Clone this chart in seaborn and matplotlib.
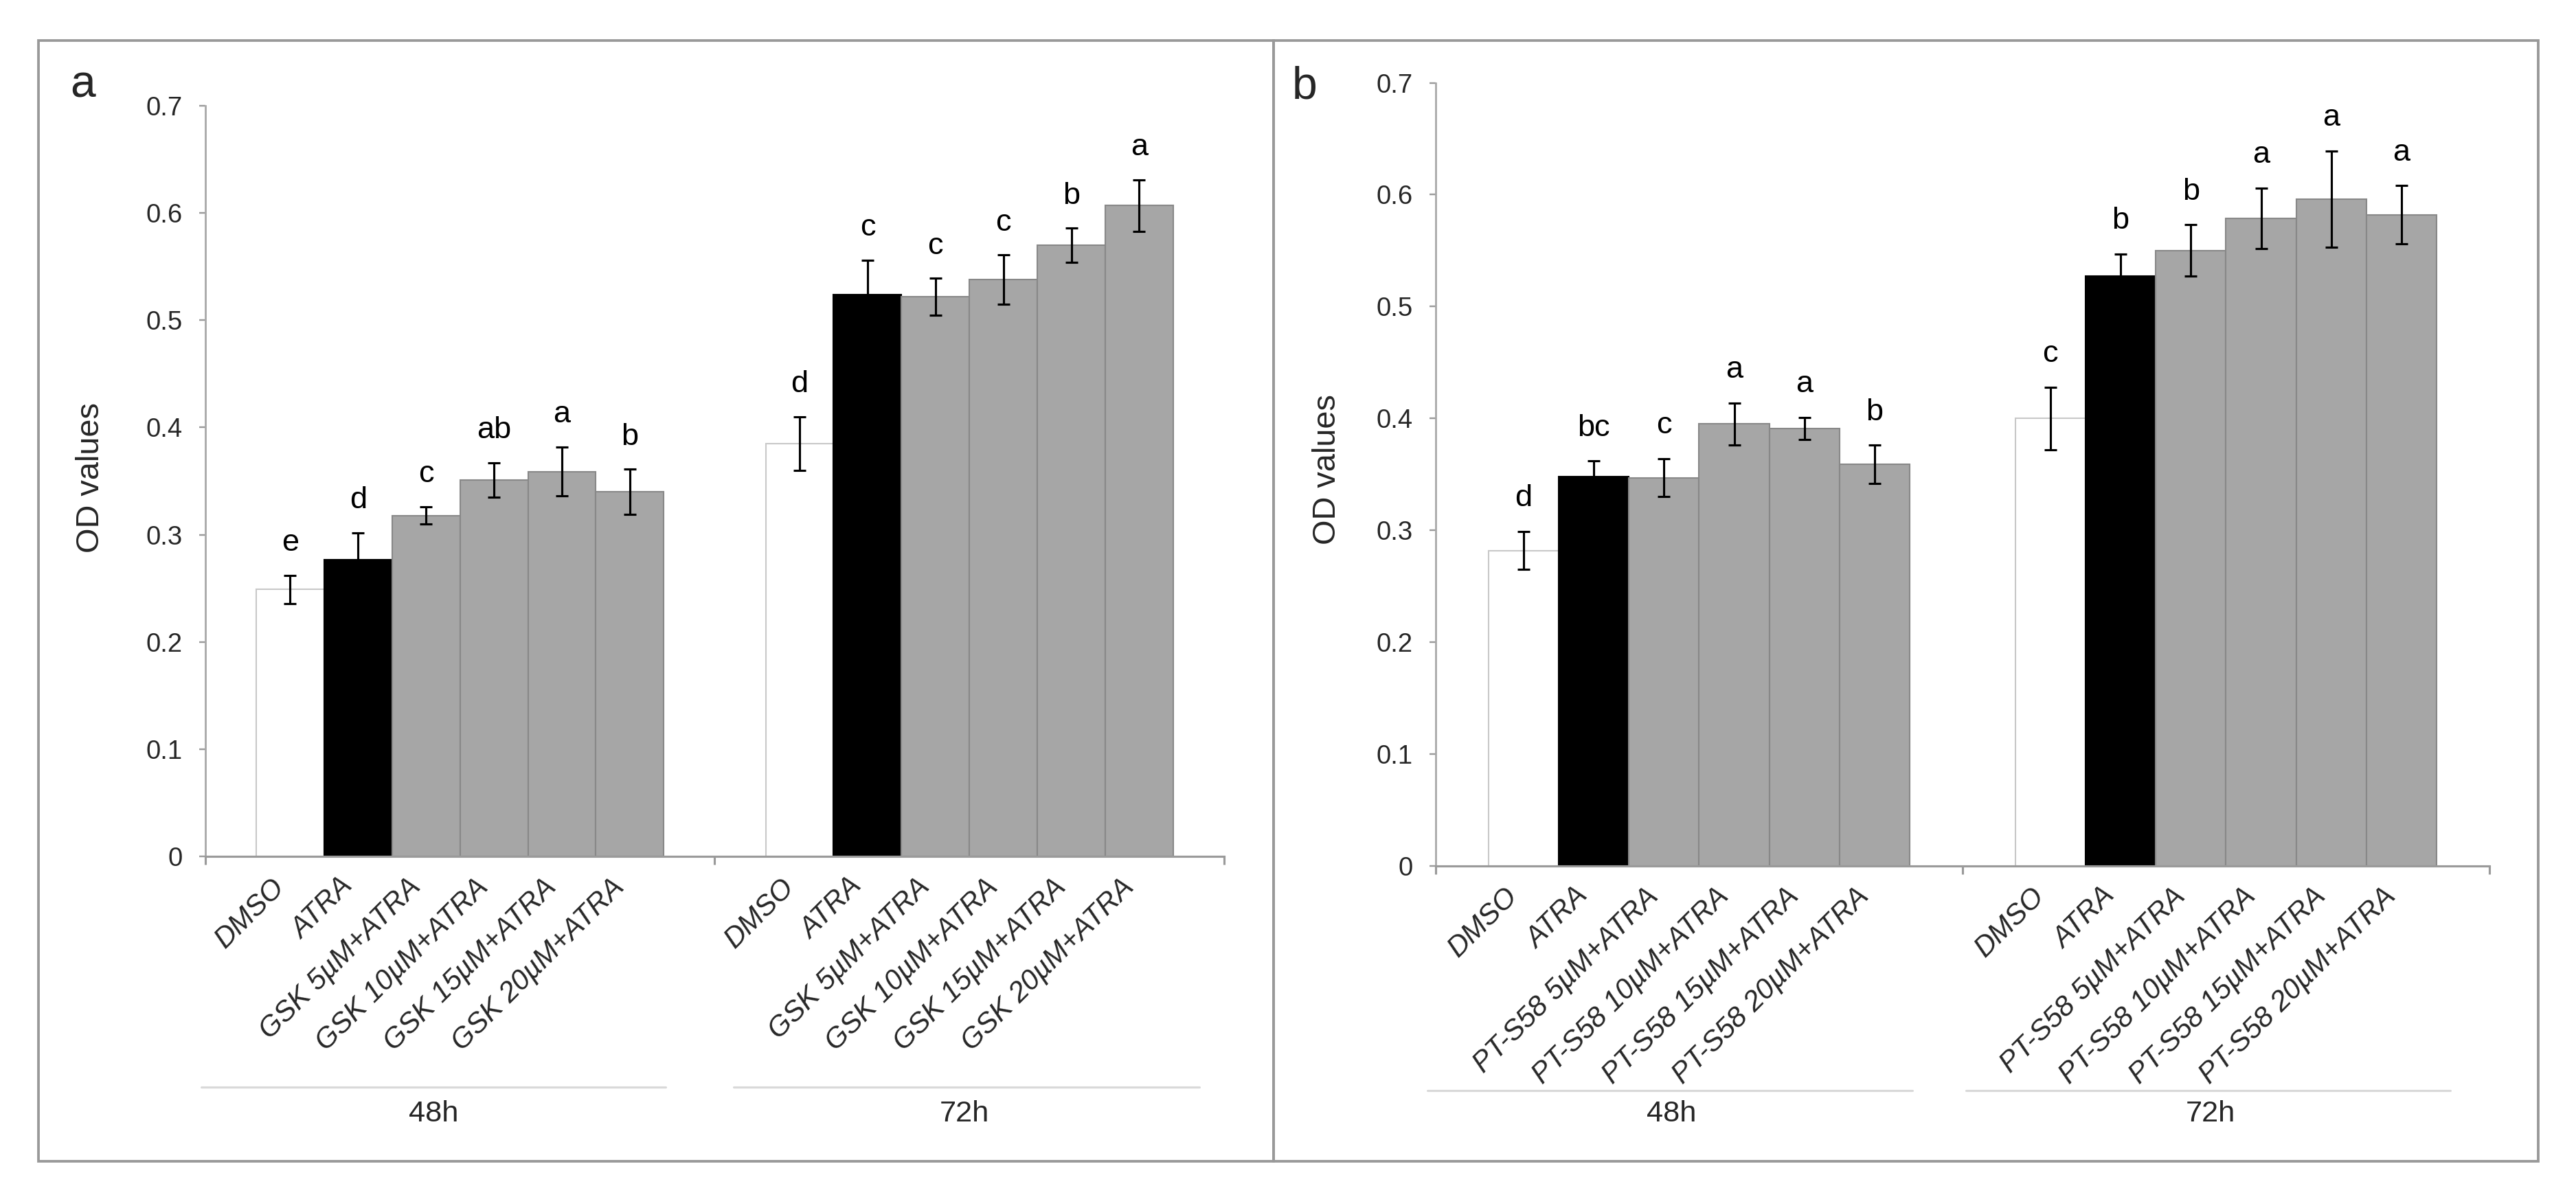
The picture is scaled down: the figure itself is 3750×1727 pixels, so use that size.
import numpy as np
import pandas as pd
import seaborn as sns
import matplotlib.pyplot as plt
import matplotlib.transforms as mtransforms
from matplotlib.patches import Rectangle

# data
times = ["48h", "72h"]

treat_a = ["DMSO", "ATRA", "GSK 5µM+ATRA", "GSK 10µM+ATRA",
           "GSK 15µM+ATRA", "GSK 20µM+ATRA"]
od_a_48 = [0.249, 0.277, 0.318, 0.351, 0.359, 0.340]
err_a_48 = [0.013, 0.025, 0.008, 0.016, 0.023, 0.021]
od_a_72 = [0.385, 0.524, 0.522, 0.538, 0.570, 0.607]
err_a_72 = [0.025, 0.032, 0.017, 0.023, 0.016, 0.024]
sig_a_48 = ["e", "d", "c", "ab", "a", "b"]
sig_a_72 = ["d", "c", "c", "c", "b", "a"]

treat_b = ["DMSO", "ATRA", "PT-S58 5µM+ATRA", "PT-S58 10µM+ATRA",
           "PT-S58 15µM+ATRA", "PT-S58 20µM+ATRA"]
od_b_48 = [0.282, 0.348, 0.347, 0.395, 0.391, 0.359]
err_b_48 = [0.017, 0.014, 0.017, 0.019, 0.010, 0.017]
od_b_72 = [0.400, 0.527, 0.550, 0.579, 0.596, 0.582]
err_b_72 = [0.028, 0.020, 0.023, 0.027, 0.043, 0.026]
sig_b_48 = ["d", "bc", "c", "a", "a", "b"]
sig_b_72 = ["c", "b", "b", "a", "a", "a"]

fills = ["#ffffff", "#000000", "#a6a6a6", "#a6a6a6", "#a6a6a6", "#a6a6a6"]
edges = ["#c8c8c8", "#000000", "#888888", "#888888", "#888888", "#888888"]

sns.set_theme(style="white")
plt.rcParams['font.family'] = ['Liberation Sans', 'DejaVu Sans']

fig = plt.figure(figsize=(15, 6.908), dpi=250)

# panel frames
for x0, x1 in [(0.0149, 0.4944), (0.4944, 0.9853)]:
    fig.patches.append(Rectangle((x0, 0.0209), x1 - x0, 0.9449,
                                 transform=fig.transFigure, fill=False,
                                 edgecolor="#999999", linewidth=1.1))


def draw_panel(ax, treats, od48, er48, od72, er72, s48, s72, layout):
    df = pd.DataFrame({
        "time": np.repeat(times, len(treats)),
        "treatment": treats * 2,
        "od": od48 + od72,
    })
    sns.barplot(data=df, x="time", y="od", hue="treatment", hue_order=treats,
                palette=fills, width=0.8, errorbar=None, legend=False,
                saturation=1, ax=ax, zorder=2)

    bars = sorted(ax.patches, key=lambda p: p.get_x())
    for i, p in enumerate(bars):
        p.set_edgecolor(edges[i % len(treats)])
        p.set_linewidth(0.6)
    centers = [p.get_x() + p.get_width() / 2 for p in bars]

    vals = od48 + od72
    errs = er48 + er72
    sigs = s48 + s72
    ax.errorbar(centers, vals, yerr=errs, fmt="none", ecolor="black",
                elinewidth=0.9, capsize=2.6, capthick=0.9, zorder=3)
    for c, v, e, s in zip(centers, vals, errs, sigs):
        ax.text(c, v + e + 0.017, s, ha="center", va="bottom", fontsize=13,
                color="black")

    ax.set_xlim(-0.5, 1.5)
    ax.set_ylim(0, 0.7)
    yt = np.arange(0, 0.71, 0.1)
    ax.set_yticks(yt, ["0"] + ["%.1f" % t for t in yt[1:]])
    ax.set_xticks([-0.5, 0.5, 1.5], ["", "", ""])
    ax.set_xticks(centers, treats * 2, minor=True)
    for lab in ax.get_xticklabels(minor=True):
        lab.set_rotation(45)
        lab.set_ha("right")
        lab.set_style("italic")
        lab.set_fontsize(12)
    ax.tick_params(axis="x", which="major", bottom=True, length=3.5,
                   width=0.9, color="#9a9a9a", direction="out")
    ax.tick_params(axis="x", which="minor", bottom=True, length=0, pad=7)
    ax.tick_params(axis="y", left=True, length=2.6, width=0.7,
                   color="#9a9a9a", labelsize=11, pad=7)
    ax.set_xlabel("")
    ax.set_ylabel("")
    for side in ["top", "right"]:
        ax.spines[side].set_visible(False)
    ax.spines["left"].set_color("#a8a8a8")
    ax.spines["left"].set_linewidth(0.8)
    ax.spines["bottom"].set_color("#9a9a9a")
    ax.spines["bottom"].set_linewidth(0.9)

    trans = mtransforms.blended_transform_factory(ax.transData, ax.transAxes)
    for (x0, x1), xt, t in zip(layout["lines"], layout["text_x"], times):
        ax.plot([x0, x1], [layout["line_y"]] * 2, transform=trans,
                clip_on=False, color="#d9d9d9", linewidth=0.9)
        ax.text(xt, layout["text_y"], t, transform=trans, ha="center",
                va="center", fontsize=12.5)


ax_a = fig.add_axes([0.0797, 0.2779, 0.4752 - 0.0797, 0.9108 - 0.2779])
draw_panel(ax_a, treat_a, od_a_48, err_a_48, od_a_72, err_a_72,
           sig_a_48, sig_a_72,
           {"lines": [(-0.508, 0.404), (0.537, 1.451)], "text_x": [-0.052, 0.99],
            "line_y": -0.307, "text_y": -0.343})

ax_b = fig.add_axes([0.5573, 0.2698, 0.9664 - 0.5573, 0.9302 - 0.2698])
draw_panel(ax_b, treat_b, od_b_48, err_b_48, od_b_72, err_b_72,
           sig_b_48, sig_b_72,
           {"lines": [(-0.516, 0.405), (0.507, 1.426)], "text_x": [-0.053, 0.97],
            "line_y": -0.287, "text_y": -0.3165})

fig.text(0.0272, 0.918, "a", fontsize=19, ha="left", va="baseline")
fig.text(0.5016, 0.917, "b", fontsize=19, ha="left", va="baseline")
fig.text(0.0352, 0.5970, "OD values", rotation=90, fontsize=13.5,
         ha="center", va="center")
fig.text(0.5152, 0.6040, "OD values", rotation=90, fontsize=13.5,
         ha="center", va="center")

plt.savefig("out.png", dpi=250)
